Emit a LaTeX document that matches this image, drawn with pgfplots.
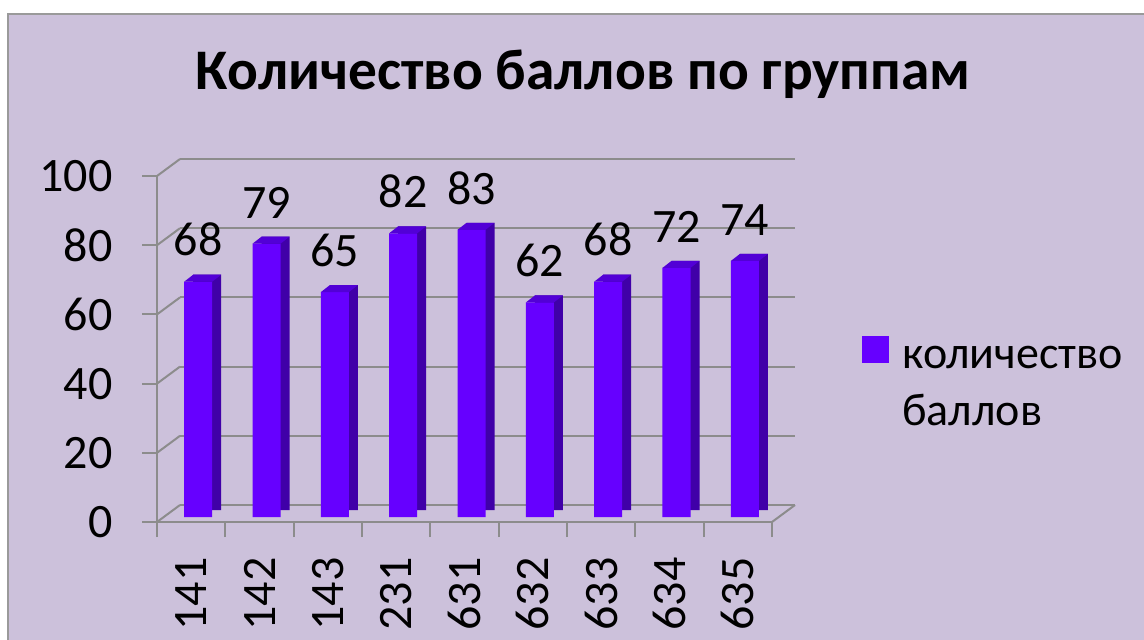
\documentclass[border=0pt]{standalone}
\usepackage{fontspec}
\setmainfont{Carlito}
\usepackage{pgfplots}
\usepackage{pgfplotstable}
\pgfplotsset{compat=1.18}

\definecolor{bgcol}{HTML}{CCC1DB}
\definecolor{barfront}{HTML}{6600FF}
\definecolor{barside}{HTML}{4000A8}
\definecolor{bartop}{HTML}{5200D6}
\definecolor{gridcol}{HTML}{8C8C8C}
\definecolor{framecol}{HTML}{9A9A9A}

% top face of a bar, drawn at the bar's front top edge
\pgfdeclareplotmark{topface}{%
  \pgfpathmoveto{\pgfqpoint{-7pt}{0pt}}%
  \pgfpathlineto{\pgfqpoint{7pt}{0pt}}%
  \pgfpathlineto{\pgfqpoint{11.5pt}{3.5pt}}%
  \pgfpathlineto{\pgfqpoint{-2.5pt}{3.5pt}}%
  \pgfpathclose\pgfusepathqfill}

\pgfplotstableread{
x v
0 68
1 79
2 65
3 82
4 83
5 62
6 68
7 72
8 74
}\scores

\begin{document}
\begin{tikzpicture}
\useasboundingbox (0,0) rectangle (572pt,319.5pt);
\fill[white] (0,0) rectangle (572pt,319.5pt);
\filldraw[fill=bgcol, draw=framecol, line width=1pt] (4pt,-5pt) rectangle (580pt,312.5pt);
\node[font=\fontsize{28.7}{34}\selectfont\bfseries, anchor=base] at (291.5pt,275pt)
  {Количество баллов по группам};
\begin{axis}[
  at={(78.5pt,58.5pt)}, anchor=south west,
  scale only axis, width=307.5pt, height=173pt,
  xmin=-0.5, xmax=8.5, ymin=0, ymax=100,
  axis x line*=bottom, axis y line*=left,
  x axis line style={-, gridcol, line width=1pt},
  y axis line style={-, gridcol, line width=1pt},
  ytick={0,20,...,100},
  ymajorgrids,
  major grid style={gridcol, line width=1pt, xshift=11.5pt, yshift=8.5pt},
  xtick={0,...,8},
  xticklabels={141,142,143,231,631,632,633,634,635},
  major x tick style={draw=none},
  minor xtick={-0.5,0.5,...,8.5},
  minor x tick style={gridcol, line width=1pt},
  ytick style={gridcol, line width=1pt},
  major tick length=7.5pt, minor tick length=7.5pt,
  tick align=outside,
  /pgf/number format/assume math mode=true,
  tick label style={font=\fontsize{24}{28}\selectfont, text=black},
  yticklabel style={anchor=east, inner sep=0pt, xshift=-14.5pt},
  xticklabel style={yshift=-10pt, rotate=90, anchor=east, inner sep=0pt},
  legend style={at={(1.1463,0.5376)}, anchor=north west, draw=none, fill=none,
    font=\fontsize{23}{28.5}\selectfont, inner sep=0pt,
    cells={anchor=base west, align=left},
    /tikz/every odd column/.append style={column sep=4.5pt}},
  legend image code/.code={\fill[barfront] (0pt,28.5pt) rectangle (13.5pt,42pt);},
  clip=false,
]
% left wall and floor edges
\pgfplotsinvokeforeach{0,20,40,60,80,100}{
  \draw[gridcol, line width=1pt] (axis cs:-0.5,#1) -- ++(11.5pt,8.5pt);
}
\draw[gridcol, line width=1pt] (axis cs:8.5,0) -- ++(11.5pt,8.5pt);
% side faces
\addplot[ybar, bar width=14pt, bar shift=0pt, fill=barside, draw=none,
  xshift=8pt, yshift=6pt, forget plot] table[x=x, y=v] {\scores};
% front faces
\addplot[ybar, bar width=14pt, bar shift=0pt, fill=barfront, draw=none,
  xshift=3.5pt, yshift=2.5pt,
  nodes near coords,
  every node near coord/.append style={font=\fontsize{24}{28}\selectfont,
    text=black, anchor=south, inner sep=0pt, yshift=12.5pt}]
  table[x=x, y=v] {\scores};
\addlegendentry{количество\\баллов}
% top faces
\addplot[only marks, mark=topface, mark options={fill=bartop, draw=none},
  xshift=3.5pt, yshift=2.5pt, forget plot] table[x=x, y=v] {\scores};
\end{axis}
\end{tikzpicture}
\end{document}
